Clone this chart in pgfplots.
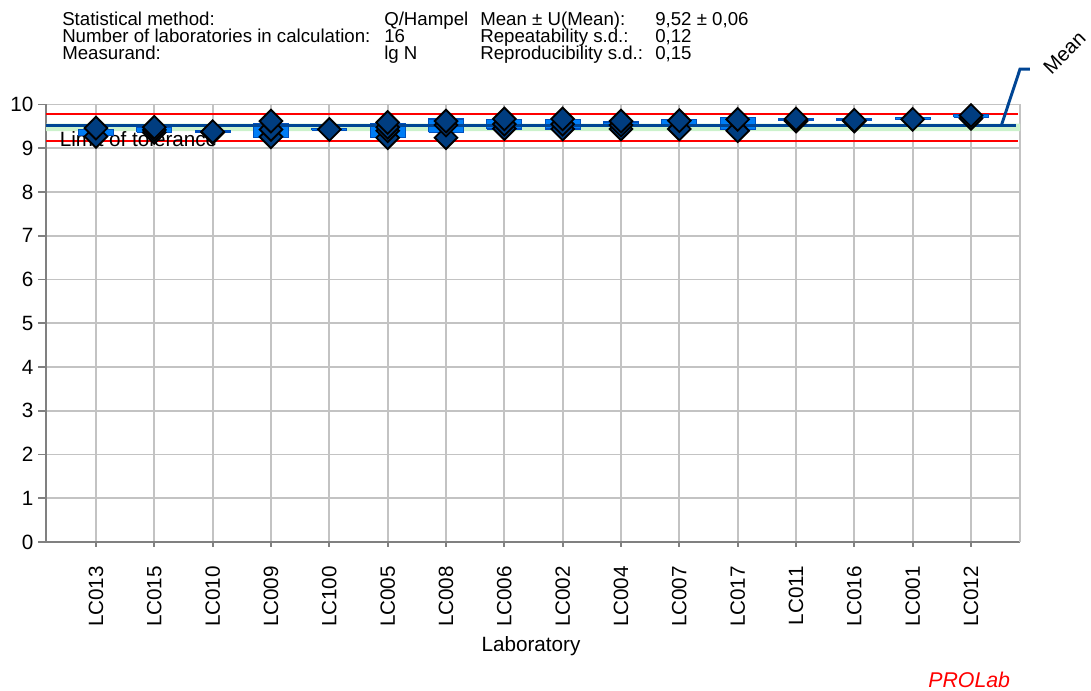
\documentclass[border=0pt]{standalone}
\usepackage{pgfplots}
\pgfplotsset{compat=1.18}
\usepackage{fontspec}
\setmainfont{Liberation Sans}
\definecolor{meanblue}{RGB}{0,69,148}
\definecolor{navy}{RGB}{0,61,128}
\definecolor{boxfill}{RGB}{0,125,245}
\definecolor{boxedge}{RGB}{0,80,190}
\definecolor{band}{RGB}{204,242,204}
\definecolor{gridgray}{RGB}{195,195,195}
\definecolor{axisgray}{RGB}{128,128,128}
\begin{document}
\begin{tikzpicture}
\useasboundingbox (-34.5pt,-111.75pt) rectangle (783.75pt,406.5pt);
\begin{axis}[
  at={(0pt,0pt)}, anchor=south west,
  scale only axis, width=730.5pt, height=328.125pt,
  xmin=-0.857, xmax=15.84, ymin=0, ymax=10,
  clip=false,
  axis lines=left,
  axis line style={-, axisgray, line width=1.6pt},
  tick align=outside,
  xtick={0,...,15},
  xticklabels={LC013,LC015,LC010,LC009,LC100,LC005,LC008,LC006,LC002,LC004,LC007,LC017,LC011,LC016,LC001,LC012},
  ytick={0,...,10},
  major tick length=6pt,
  tick style={axisgray, line width=1.3pt},
  xtick style={/pgfplots/major tick length=3.5pt},
  grid=major,
  major grid style={gridgray, line width=1.4pt},
  extra x ticks={15.84},
  extra x tick labels={},
  extra x tick style={grid=major, tick style={draw=none}},
  tick label style={font=\fontsize{15.5}{18}\selectfont},
  /pgf/number format/assume math mode=true,
  x tick label style={rotate=90, anchor=east, xshift=-8.5pt},
  y tick label style={xshift=0pt},
]
% band of mean +/- U
\addplot[fill=band, draw=none] coordinates {(-0.857,9.39) (15.84,9.39) (15.84,9.56) (-0.857,9.56) (-0.857,9.39)};
% limits of tolerance
\addplot[red, line width=1.2pt] coordinates {(-0.857,9.78) (15.8,9.78)};
\addplot[red, line width=1.2pt] coordinates {(-0.857,9.17) (15.8,9.17)};
\node[anchor=base west, font=\fontsize{15.5}{18}\selectfont] at (axis cs:-0.70,9.05) {Limit of tolerance};
% laboratory boxes
\addplot[fill=boxfill, draw=boxedge, line width=0.9pt, unbounded coords=jump] coordinates {
(-0.3,9.29) (0.3,9.29) (0.3,9.43) (-0.3,9.43) (-0.3,9.29) (nan,nan)
(0.7,9.36) (1.3,9.36) (1.3,9.47) (0.7,9.47) (0.7,9.36) (nan,nan)
(1.7,9.37) (2.3,9.37) (2.3,9.41) (1.7,9.41) (1.7,9.37) (nan,nan)
(2.7,9.25) (3.3,9.25) (3.3,9.57) (2.7,9.57) (2.7,9.25) (nan,nan)
(3.7,9.41) (4.3,9.41) (4.3,9.45) (3.7,9.45) (3.7,9.41) (nan,nan)
(4.7,9.25) (5.3,9.25) (5.3,9.57) (4.7,9.57) (4.7,9.25) (nan,nan)
(5.7,9.36) (6.3,9.36) (6.3,9.67) (5.7,9.67) (5.7,9.36) (nan,nan)
(6.7,9.44) (7.3,9.44) (7.3,9.66) (6.7,9.66) (6.7,9.44) (nan,nan)
(7.7,9.44) (8.3,9.44) (8.3,9.66) (7.7,9.66) (7.7,9.44) (nan,nan)
(8.7,9.49) (9.3,9.49) (9.3,9.60) (8.7,9.60) (8.7,9.49) (nan,nan)
(9.7,9.55) (10.3,9.55) (10.3,9.66) (9.7,9.66) (9.7,9.55) (nan,nan)
(10.7,9.43) (11.3,9.43) (11.3,9.71) (10.7,9.71) (10.7,9.43) (nan,nan)
(11.7,9.63) (12.3,9.63) (12.3,9.67) (11.7,9.67) (11.7,9.63) (nan,nan)
(12.7,9.63) (13.3,9.63) (13.3,9.67) (12.7,9.67) (12.7,9.63) (nan,nan)
(13.7,9.66) (14.3,9.66) (14.3,9.70) (13.7,9.70) (13.7,9.66) (nan,nan)
(14.7,9.71) (15.3,9.71) (15.3,9.78) (14.7,9.78) (14.7,9.71)
};
% mean
\addplot[meanblue, line width=2.6pt] coordinates {(-0.857,9.52) (15.77,9.52)};
\draw[meanblue, line width=2.2pt] (axis cs:15.52,9.52) -- (axis cs:15.84,10.81) -- (axis cs:16.01,10.81);
% individual results
\addplot[only marks, mark=square*, mark size=6pt,
  mark options={rotate=45, fill=navy, draw=black, line width=1.4pt}] coordinates {
(0,9.27) (0,9.46)
(1,9.36) (1,9.42) (1,9.48)
(2,9.36) (2,9.38)
(3,9.26) (3,9.43) (3,9.62)
(4,9.43)
(5,9.24) (5,9.40) (5,9.48) (5,9.59)
(6,9.24) (6,9.53) (6,9.62)
(7,9.45) (7,9.55) (7,9.67)
(8,9.44) (8,9.55) (8,9.67)
(9,9.44) (9,9.53) (9,9.62)
(10,9.44) (10,9.63)
(11,9.40) (11,9.66)
(12,9.62) (12,9.67)
(13,9.62) (13,9.64)
(14,9.66)
(15,9.68) (15,9.75)
};
\end{axis}
% header
\begin{scope}[every node/.style={anchor=base west, inner sep=0pt, font=\fontsize{14}{14}\selectfont}]
\node at (12pt,387pt) {Statistical method:};
\node at (12pt,374.6pt) {Number of laboratories in calculation:};
\node at (12pt,362.2pt) {Measurand:};
\node at (253.5pt,387pt) {Q/Hampel};
\node at (253.5pt,374.6pt) {16};
\node at (253.5pt,362.2pt) {lg N};
\node at (325.5pt,387pt) {Mean ± U(Mean):};
\node at (325.5pt,374.6pt) {Repeatability s.d.:};
\node at (325.5pt,362.2pt) {Reproducibility s.d.:};
\node at (456.75pt,387pt) {9,52 ± 0,06};
\node at (456.75pt,374.6pt) {0,12};
\node at (456.75pt,362.2pt) {0,15};
\end{scope}
\node[rotate=45, anchor=base west, inner sep=0pt, font=\fontsize{15}{15}\selectfont] at (754pt,350pt) {Mean};
\node[anchor=base, inner sep=0pt, font=\fontsize{15.5}{18}\selectfont] at (363.75pt,-82pt) {Laboratory};
\node[anchor=base west, inner sep=0pt, text=red, font=\fontsize{16}{18}\itshape] at (661.5pt,-109.5pt) {PROLab};
\end{tikzpicture}
\end{document}
